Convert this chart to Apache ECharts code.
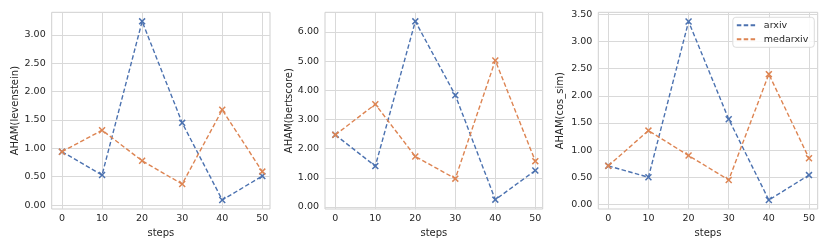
<!DOCTYPE html>
<html>
<head>
<meta charset="utf-8">
<script src="https://cdn.jsdelivr.net/npm/echarts@6/dist/echarts.min.js"></script>
<style>html,body{margin:0;padding:0;background:#fff}#c{width:830px;height:249px}</style>
</head>
<body>
<div id="c"></div>
<script>
const steps = [0, 10, 20, 30, 40, 50];
const xTicks = [0, 10, 20, 30, 40, 50];
const seriesNames = ['arxiv', 'medarxiv'];
const arxivLev = [0.94, 0.53, 3.24, 1.45, 0.09, 0.51];
const medarxivLev = [0.94, 1.32, 0.78, 0.37, 1.68, 0.59];
const arxivBert = [2.47, 1.40, 6.36, 3.83, 0.25, 1.25];
const medarxivBert = [2.47, 3.52, 1.73, 0.97, 5.02, 1.57];
const arxivCos = [0.71, 0.50, 3.37, 1.57, 0.08, 0.54];
const medarxivCos = [0.71, 1.36, 0.90, 0.45, 2.40, 0.85];
const yTicksLev = [0, 0.5, 1, 1.5, 2, 2.5, 3];
const yTicksBert = [0, 1, 2, 3, 4, 5, 6];
const yTicksCos = [0, 0.5, 1, 1.5, 2, 2.5, 3, 3.5];
const yNames = ['AHAM(levenstein)', 'AHAM(bertscore)', 'AHAM(cos_sim)'];

const COLORS = ['#4c72b0', '#dd8452'];
const TEXT = '#262626';
const FONT = 'DejaVu Sans';
const X_PATH = 'path://M1.5,0L5,3.5L8.5,0L10,1.5L6.5,5L10,8.5L8.5,10L5,6.5L1.5,10L0,8.5L3.5,5L0,1.5Z';

const panels = [
  {grid: {left: 51.7, top: 12.3, width: 218.3, height: 196.7}, x: [-2.57, 51.92], y: [-0.07, 3.40], yt: yTicksLev, gap: 30, data: [arxivLev, medarxivLev]},
  {grid: {left: 325, top: 12.3, width: 217.7, height: 196.7}, x: [-2.58, 51.85], y: [-0.07, 6.67], yt: yTicksBert, gap: 29, data: [arxivBert, medarxivBert]},
  {grid: {left: 598.3, top: 12.3, width: 219.4, height: 196.7}, x: [-2.49, 52.17], y: [-0.085, 3.54], yt: yTicksCos, gap: 33, data: [arxivCos, medarxivCos]}
];

const grid = [], xAxis = [], yAxis = [], series = [];
panels.forEach((p, i) => {
  grid.push(Object.assign({show: true, borderColor: '#cfcfcf', borderWidth: 1, backgroundColor: 'transparent'}, p.grid));
  xAxis.push({
    type: 'value', gridIndex: i, min: p.x[0], max: p.x[1],
    name: 'steps', nameLocation: 'middle', nameGap: 17,
    nameTextStyle: {color: TEXT, fontFamily: FONT, fontSize: 10},
    axisLine: {show: false},
    axisTick: {show: false, customValues: xTicks},
    axisLabel: {customValues: xTicks, color: TEXT, fontFamily: FONT, fontSize: 9.5, margin: 5, formatter: v => String(v)},
    splitLine: {show: true, lineStyle: {color: '#d9d9d9', width: 1}}
  });
  yAxis.push({
    type: 'value', gridIndex: i, min: p.y[0], max: p.y[1],
    name: yNames[i], nameLocation: 'middle', nameGap: p.gap,
    nameTextStyle: {color: TEXT, fontFamily: FONT, fontSize: 10},
    axisLine: {show: false},
    axisTick: {show: false, customValues: p.yt},
    axisLabel: {customValues: p.yt, color: TEXT, fontFamily: FONT, fontSize: 9.5, margin: 6, formatter: v => v.toFixed(2)},
    splitLine: {show: true, lineStyle: {color: '#d9d9d9', width: 1}}
  });
  p.data.forEach((vals, k) => {
    series.push({
      type: 'line', name: seriesNames[k], xAxisIndex: i, yAxisIndex: i,
      data: steps.map((s, j) => [s, vals[j]]),
      symbol: X_PATH, symbolSize: 7, showSymbol: true,
      lineStyle: {color: COLORS[k], width: 1.4, type: [4.5, 2.4]},
      itemStyle: {color: COLORS[k]},
      animation: false, z: 2 + k
    });
  });
});

const chart = echarts.init(document.getElementById('c'), null, {renderer: 'canvas'});
chart.setOption({
  backgroundColor: '#ffffff',
  animation: false,
  grid, xAxis, yAxis, series,
  legend: {
    data: seriesNames, orient: 'vertical', right: 15.7, top: 17.3,
    itemWidth: 19, itemHeight: 10, itemGap: 4,
    padding: [3, 6, 3, 3],
    backgroundColor: 'rgba(255,255,255,0.85)', borderColor: '#dcdcdc', borderWidth: 1, borderRadius: 3,
    itemStyle: {opacity: 0},
    textStyle: {color: TEXT, fontFamily: FONT, fontSize: 9.5, padding: [0, 0, 0, 3]}
  }
});
</script>
</body>
</html>
